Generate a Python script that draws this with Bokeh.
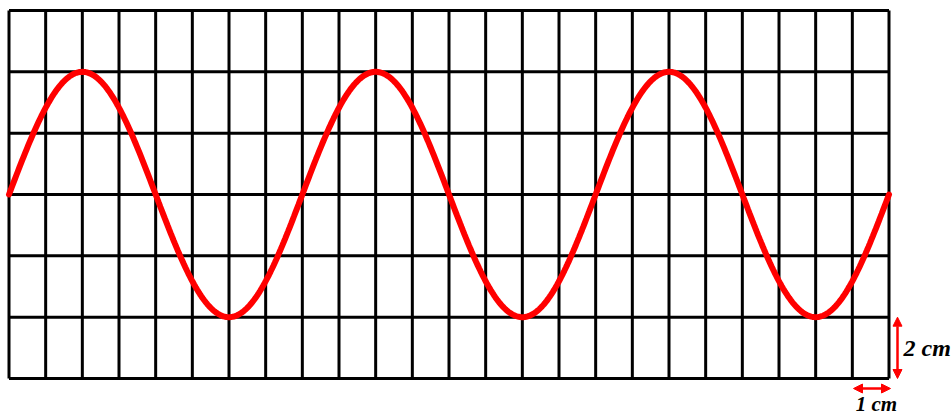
import numpy as np
from bokeh.plotting import figure
from bokeh.models import Arrow, NormalHead, Range1d
from bokeh.core.properties import value
from bokeh.embed import file_html
from bokeh.resources import INLINE

# Grid: 24 columns of 1 cm, 6 rows of 2 cm
grid_x = list(range(0, 25))          # vertical grid lines (cm)
grid_y = list(range(-6, 7, 2))       # horizontal grid lines (cm)

# Wave: amplitude 4 cm (2 rows), wavelength 8 cm (8 columns), 3 cycles
amplitude = 4.0
wavelength = 8.0
cycles = 3

scale_labels = ["2 cm", "1 cm"]

W, H = 952, 416
# pixel layout of the grid inside the canvas
left_px, right_px = 8.5, 888.5
top_px, bottom_px = 10.0, 378.0
ppx = (right_px - left_px) / 24.0
ppy = (bottom_px - top_px) / 12.0

x0 = 0 - left_px / ppx
x1 = 24 + (W - right_px) / ppx
y1 = 6 + top_px / ppy
y0 = -6 - (H - bottom_px) / ppy

p = figure(width=W, height=H, output_backend="svg", toolbar_location=None,
           x_range=Range1d(x0, x1), y_range=Range1d(y0, y1),
           min_border=0, outline_line_color=None)
p.axis.visible = False
p.grid.visible = False
p.background_fill_color = "white"
p.border_fill_color = "white"

# grid
p.segment(x0=grid_x, y0=[-6] * len(grid_x), x1=grid_x, y1=[6] * len(grid_x),
          line_color="black", line_width=3)
p.segment(x0=[0] * len(grid_y), y0=grid_y, x1=[24] * len(grid_y), y1=grid_y,
          line_color="black", line_width=3)

# wave
xs = np.linspace(0, wavelength * cycles, 600)
ys = amplitude * np.sin(2 * np.pi * xs / wavelength)
p.line(xs, ys, line_color="#ff0000", line_width=6, line_cap="round")

# scale arrows
def px_to_x(px):
    return x0 + px / ppx

def px_to_y(py):
    return y1 - py / ppy

ax = px_to_x(897)
p.add_layout(Arrow(start=NormalHead(size=9, fill_color="red", line_color="red"),
                   end=NormalHead(size=9, fill_color="red", line_color="red"),
                   x_start=ax, y_start=-4.0, x_end=ax, y_end=-6.0,
                   line_color="red", line_width=2.5))
ay = px_to_y(388)
p.add_layout(Arrow(start=NormalHead(size=9, fill_color="red", line_color="red"),
                   end=NormalHead(size=9, fill_color="red", line_color="red"),
                   x_start=px_to_x(853), y_start=ay, x_end=px_to_x(890), y_end=ay,
                   line_color="red", line_width=2.5))

p.text(x=[px_to_x(903)], y=[px_to_y(347)], text=[scale_labels[0]],
       text_font=value("Liberation Serif"), text_font_style="bold italic",
       text_font_size="24px", text_align="left", text_baseline="middle",
       text_color="black")
p.text(x=[px_to_x(876)], y=[px_to_y(403)], text=[scale_labels[1]],
       text_font=value("Liberation Serif"), text_font_style="bold italic",
       text_font_size="21px", text_align="center", text_baseline="middle",
       text_color="black")

open("out.html", "w").write(file_html(p, INLINE))
